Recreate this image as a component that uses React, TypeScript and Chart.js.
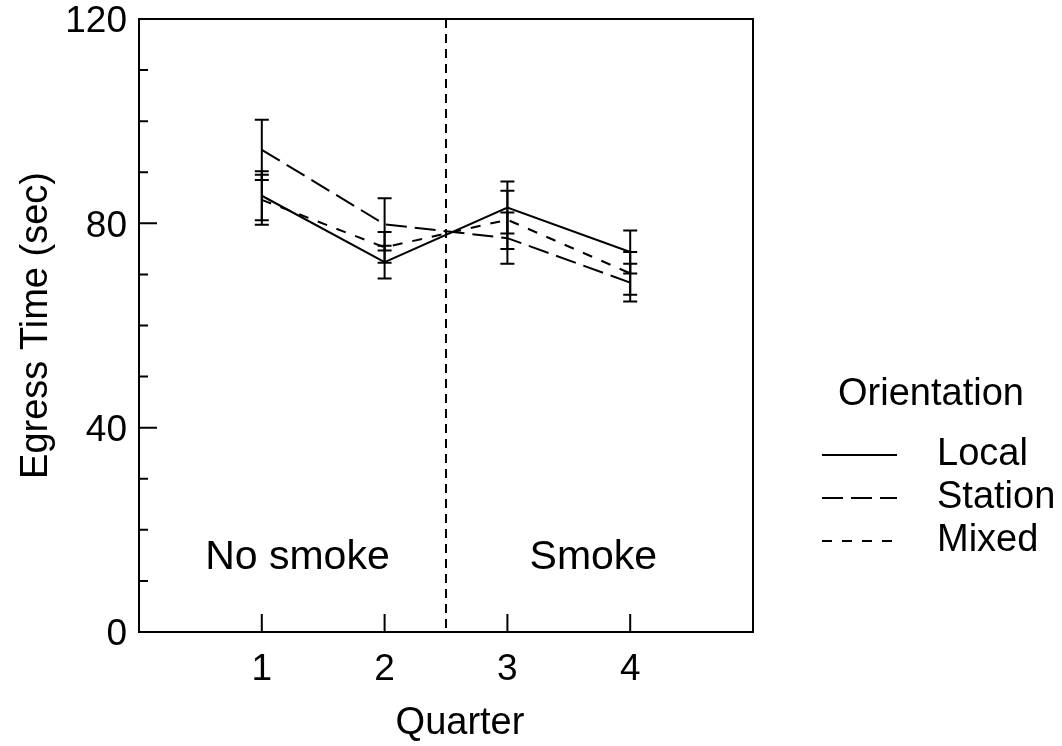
import React, { useEffect, useRef } from 'react';
import { Chart, registerables } from 'chart.js';

Chart.register(...registerables);

// ---- data ----
const QUARTERS = [1, 2, 3, 4];
const SERIES_NAMES = ['Local', 'Station', 'Mixed'];
const LOCAL = [85.4, 72.4, 83.1, 74.4];
const LOCAL_ERR = [4.8, 3.2, 5.1, 4.2];
const STATION = [94.4, 79.8, 77.1, 68.4];
const STATION_ERR = [5.9, 5.1, 5.0, 3.7];
const MIXED = [84.6, 75.3, 80.7, 70.2];
const MIXED_ERR = [4.9, 3.0, 5.7, 4.2];
const Y_MAJOR = [0, 40, 80, 120];
const Y_MINOR = [10, 20, 30, 50, 60, 70, 90, 100, 110];
const DIVIDER_X = 2.5;
const REGION_LABELS = ['No smoke', 'Smoke'];
const REGION_X = [1.29, 3.7];
const REGION_Y = 15;
const LEGEND_TITLE = 'Orientation';
const X_TITLE = 'Quarter';
const Y_TITLE = 'Egress Time (sec)';

const FONT_FAMILY = '"Liberation Sans", Arial, Helvetica, sans-serif';
const DASHES = [[], [21, 8], [10, 10]];

const SERIES = [LOCAL, STATION, MIXED];
const ERRORS = [LOCAL_ERR, STATION_ERR, MIXED_ERR];

const decorPlugin = {
  id: 'decor',
  afterDatasetsDraw(chart: any) {
    const ctx = chart.ctx;
    const xs = chart.scales.x;
    const ys = chart.scales.y;
    ctx.save();
    ctx.strokeStyle = '#000';
    ctx.lineWidth = 2;
    ctx.setLineDash([]);
    SERIES.forEach((vals, si) => {
      const errs = ERRORS[si];
      QUARTERS.forEach((q, i) => {
        const px = xs.getPixelForValue(q);
        const top = ys.getPixelForValue(vals[i] + errs[i]);
        const bot = ys.getPixelForValue(vals[i] - errs[i]);
        ctx.beginPath();
        ctx.moveTo(px, top);
        ctx.lineTo(px, bot);
        ctx.moveTo(px - 7, top);
        ctx.lineTo(px + 7, top);
        ctx.moveTo(px - 7, bot);
        ctx.lineTo(px + 7, bot);
        ctx.stroke();
      });
    });
    ctx.restore();
  },
  afterDraw(chart: any) {
    const ctx = chart.ctx;
    const { left, right, top, bottom } = chart.chartArea;
    const xs = chart.scales.x;
    const ys = chart.scales.y;
    ctx.save();
    ctx.strokeStyle = '#000';
    ctx.fillStyle = '#000';
    ctx.lineWidth = 2;
    ctx.setLineDash([]);
    // frame
    ctx.strokeRect(left, top, right - left, bottom - top);
    // ticks (inward)
    ctx.beginPath();
    Y_MAJOR.forEach((v) => {
      const py = ys.getPixelForValue(v);
      ctx.moveTo(left, py);
      ctx.lineTo(left + 18, py);
    });
    Y_MINOR.forEach((v) => {
      const py = ys.getPixelForValue(v);
      ctx.moveTo(left, py);
      ctx.lineTo(left + 9, py);
    });
    QUARTERS.forEach((q) => {
      const px = xs.getPixelForValue(q);
      ctx.moveTo(px, bottom);
      ctx.lineTo(px, bottom - 18);
    });
    ctx.stroke();
    // divider
    const dx = xs.getPixelForValue(DIVIDER_X);
    ctx.setLineDash([9, 6]);
    ctx.beginPath();
    ctx.moveTo(dx, top);
    ctx.lineTo(dx, bottom);
    ctx.stroke();
    ctx.setLineDash([]);
    // region labels
    ctx.font = `41px ${FONT_FAMILY}`;
    ctx.textAlign = 'center';
    ctx.textBaseline = 'middle';
    REGION_LABELS.forEach((t, i) => {
      ctx.fillText(t, xs.getPixelForValue(REGION_X[i]), ys.getPixelForValue(REGION_Y) + 2);
    });
    // x title
    ctx.font = `38px ${FONT_FAMILY}`;
    ctx.fillText(X_TITLE, 460, 724);
    // legend
    ctx.fillText(LEGEND_TITLE, 931, 395);
    ctx.textAlign = 'left';
    const rowY = [455, 498, 541];
    SERIES_NAMES.forEach((name, i) => {
      ctx.setLineDash(DASHES[i]);
      ctx.beginPath();
      ctx.moveTo(822, rowY[i]);
      ctx.lineTo(897, rowY[i]);
      ctx.stroke();
      ctx.setLineDash([]);
      ctx.fillText(name, 937, rowY[i]);
    });
    ctx.restore();
  },
};

export default function App() {
  const ref = useRef<HTMLCanvasElement>(null);
  useEffect(() => {
    const canvas = ref.current!;
    const chart = new Chart(canvas, {
      type: 'line',
      data: {
        datasets: SERIES.map((vals, si) => ({
          label: SERIES_NAMES[si],
          data: QUARTERS.map((q, i) => ({ x: q, y: vals[i] })),
          borderColor: '#000',
          borderWidth: 2,
          borderDash: DASHES[si],
          pointRadius: 0,
          fill: false,
          tension: 0,
        })),
      },
      options: {
        animation: false,
        responsive: false,
        layout: { padding: { top: 19, right: 309, left: 0, bottom: 0 } },
        plugins: { legend: { display: false }, tooltip: { enabled: false } },
        scales: {
          x: {
            type: 'linear',
            min: 0,
            max: 5,
            border: { display: false },
            grid: { display: false, drawTicks: false },
            ticks: {
              stepSize: 1,
              padding: 19,
              color: '#000',
              font: { family: FONT_FAMILY, size: 37, lineHeight: 1 },
              callback: (v: any) => (QUARTERS.includes(Number(v)) ? String(v) : ''),
            },
            title: { display: false },
            afterFit: (s: any) => {
              s.height = 114;
              s.paddingLeft = 0;
              s.paddingRight = 0;
            },
          },
          y: {
            type: 'linear',
            min: 0,
            max: 120,
            border: { display: false },
            grid: { display: false, drawTicks: false },
            afterBuildTicks: (s: any) => {
              s.ticks = Y_MAJOR.map((v) => ({ value: v }));
            },
            ticks: {
              padding: 12,
              labelOffset: 3,
              color: '#000',
              font: { family: FONT_FAMILY, size: 37, lineHeight: 1 },
            },
            title: {
              display: true,
              text: Y_TITLE,
              color: '#000',
              font: { family: FONT_FAMILY, size: 38 },
              padding: { top: 14, bottom: 0 },
            },
            afterFit: (s: any) => {
              s.width = 139;
              s.paddingTop = 0;
              s.paddingBottom = 0;
            },
          },
        },
      },
      plugins: [decorPlugin],
    });
    return () => chart.destroy();
  }, []);
  return (
    <div style={{ position: 'absolute', left: 0, top: 0, width: 1062, height: 746, background: '#fff' }}>
      <canvas ref={ref} width={1062} height={746} style={{ display: 'block' }} />
    </div>
  );
}
